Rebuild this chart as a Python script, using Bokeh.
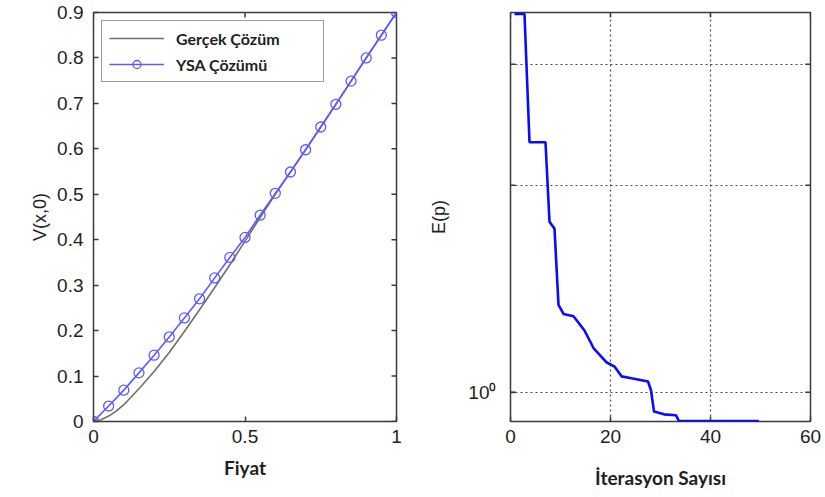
import math
from bokeh.plotting import figure
from bokeh.layouts import row
from bokeh.models import (Range1d, FixedTicker, Legend, LegendItem)
from bokeh.embed import file_html
from bokeh.resources import INLINE

# ---------------- data ----------------
fiyat = [0.0, 0.05, 0.1, 0.15, 0.2, 0.25, 0.3, 0.35, 0.4, 0.45, 0.5,
         0.55, 0.6, 0.65, 0.7, 0.75, 0.8, 0.85, 0.9, 0.95, 1.0]
ysa_cozum = [0.0, 0.034, 0.069, 0.107, 0.146, 0.186, 0.228, 0.270, 0.316, 0.361, 0.405,
             0.454, 0.502, 0.549, 0.598, 0.648, 0.698, 0.749, 0.800, 0.850, 0.900]
gercek_x = [0.0, 0.025, 0.05, 0.075, 0.1, 0.15, 0.2, 0.25, 0.3, 0.35, 0.4, 0.45, 0.5,
            0.55, 0.6, 0.65, 0.7, 0.75, 0.8, 0.85, 0.9, 0.95, 1.0]
gercek_cozum = [0.0, 0.004, 0.012, 0.023, 0.037, 0.072, 0.110, 0.152, 0.198, 0.246, 0.295, 0.345, 0.397,
                0.449, 0.500, 0.549, 0.598, 0.648, 0.698, 0.749, 0.800, 0.850, 0.900]

iterasyon = [0.8, 2.8, 3.8, 7.0, 7.8, 8.8, 9.6, 10.6, 12.6, 14.8, 16.6, 19.2, 20.8,
             22.2, 24.2, 27.5, 28.1, 28.7, 30.7, 33.1, 33.7, 49.7]
hata_E = [3.55, 3.55, 2.31, 2.31, 1.77, 1.73, 1.34, 1.30, 1.29, 1.23, 1.16, 1.106, 1.09,
          1.055, 1.048, 1.037, 1.007, 0.938, 0.929, 0.926, 0.908, 0.908]

left_xticks = [0, 0.5, 1]
left_xlabels = {0: "0", 0.5: "0.5", 1: "1"}
left_yticks = [0, 0.1, 0.2, 0.3, 0.4, 0.5, 0.6, 0.7, 0.8, 0.9]
left_ylabels = {0: "0"}
right_xticks = [0, 20, 40, 60]
right_yticks_labelled = [1]
right_ylabels = {1: "10⁰"}
right_ygrid = [1, 2, 3]

TICK_FONT = "Liberation Sans"
LABEL_FONT = "Lato"
TXT = "#1e1e1e"
FRAME = "#3a3a3a"
TICK_LEN = 5


def style_axis(ax, ticker, overrides, standoff=8):
    ax.ticker = FixedTicker(ticks=ticker, minor_ticks=[])
    ax.major_label_overrides = overrides
    ax.major_tick_in = TICK_LEN
    ax.major_tick_out = 0
    ax.minor_tick_in = 0
    ax.minor_tick_out = 0
    ax.major_tick_line_color = FRAME
    ax.major_tick_line_width = 1.5
    ax.axis_line_color = None
    ax.major_label_standoff = standoff
    ax.major_label_text_font = TICK_FONT
    ax.major_label_text_font_size = "19px"
    ax.major_label_text_color = TXT


def inward_ticks(p, xs, ys, angle):
    p.ray(x=xs, y=ys, length=TICK_LEN, length_units="screen", angle=angle,
          line_color=FRAME, line_width=1.5)


# ---------------- left figure ----------------
p1 = figure(width=410, height=497, output_backend="svg", toolbar_location=None,
            x_range=Range1d(0, 1), y_range=Range1d(0, 0.9),
            min_border_left=93, min_border_right=14, min_border_top=12, min_border_bottom=76)
p1.outline_line_color = FRAME
p1.outline_line_width = 1.5
p1.grid.visible = False

# ticks on the right and top edges of the box
inward_ticks(p1, [1] * len(left_yticks), left_yticks, math.pi)
inward_ticks(p1, left_xticks, [0.9] * len(left_xticks), -math.pi / 2)

g = p1.line(gercek_x, gercek_cozum, line_color="#6e6e6e", line_width=1.6)
bl = p1.line(fiyat, ysa_cozum, line_color="#5b5bff", line_width=1.6)
bs = p1.scatter(fiyat, ysa_cozum, marker="circle", size=10, fill_color=None,
                line_color="#5b5bff", line_width=1.3)

style_axis(p1.xaxis[0], left_xticks, left_xlabels, standoff=8)
style_axis(p1.yaxis[0], left_yticks, left_ylabels, standoff=10)
p1.xaxis.axis_label = "Fiyat"
p1.xaxis.axis_label_text_font = LABEL_FONT
p1.xaxis.axis_label_text_font_style = "bold"
p1.xaxis.axis_label_text_font_size = "19px"
p1.xaxis.axis_label_text_color = TXT
p1.xaxis.axis_label_standoff = 10
p1.yaxis.axis_label = "V(x,0)"
p1.yaxis.axis_label_text_font = TICK_FONT
p1.yaxis.axis_label_text_font_style = "normal"
p1.yaxis.axis_label_text_font_size = "18px"
p1.yaxis.axis_label_text_color = TXT
p1.yaxis.axis_label_standoff = 4

legend = Legend(items=[LegendItem(label="Gerçek Çözüm", renderers=[g]),
                       LegendItem(label="YSA Çözümü", renderers=[bl, bs])],
                location="top_left")
legend.margin = 8
legend.padding = 7
legend.spacing = 6
legend.glyph_width = 55
legend.glyph_height = 20
legend.label_width = 140
legend.label_standoff = 12
legend.label_text_font = LABEL_FONT
legend.label_text_font_style = "bold"
legend.label_text_font_size = "16px"
legend.label_text_color = TXT
legend.border_line_color = FRAME
legend.border_line_width = 1.5
legend.background_fill_color = "white"
p1.add_layout(legend)

# ---------------- right figure ----------------
p2 = figure(width=415, height=497, output_backend="svg", toolbar_location=None,
            y_axis_type="log",
            x_range=Range1d(0, 60), y_range=Range1d(0.907, 3.567),
            min_border_left=100, min_border_right=15, min_border_top=12, min_border_bottom=76)
p2.outline_line_color = FRAME
p2.outline_line_width = 1.5

p2.xgrid.ticker = FixedTicker(ticks=[20, 40])
p2.ygrid.ticker = FixedTicker(ticks=right_ygrid)
p2.grid.grid_line_color = "#333333"
p2.grid.grid_line_dash = "2 3"
p2.grid.grid_line_width = 1.2
p2.grid.grid_line_alpha = 0.9

inward_ticks(p2, [60] * len(right_ygrid), right_ygrid, math.pi)
inward_ticks(p2, [0] * len(right_ygrid), right_ygrid, 0)
inward_ticks(p2, right_xticks, [3.567] * len(right_xticks), -math.pi / 2)

p2.line(iterasyon, hata_E, line_color="#0a0aff", line_width=2.6)

style_axis(p2.xaxis[0], right_xticks, {}, standoff=8)
style_axis(p2.yaxis[0], right_yticks_labelled, right_ylabels, standoff=14)
p2.xaxis.axis_label = "İterasyon Sayısı"
p2.xaxis.axis_label_text_font = LABEL_FONT
p2.xaxis.axis_label_text_font_style = "bold"
p2.xaxis.axis_label_text_font_size = "19px"
p2.xaxis.axis_label_text_color = TXT
p2.xaxis.axis_label_standoff = 20
p2.yaxis.axis_label = "E(p)"
p2.yaxis.axis_label_text_font = TICK_FONT
p2.yaxis.axis_label_text_font_style = "normal"
p2.yaxis.axis_label_text_font_size = "18px"
p2.yaxis.axis_label_text_color = TXT
p2.yaxis.axis_label_standoff = 16

layout = row(p1, p2)
open("out.html", "w").write(file_html(layout, INLINE))
